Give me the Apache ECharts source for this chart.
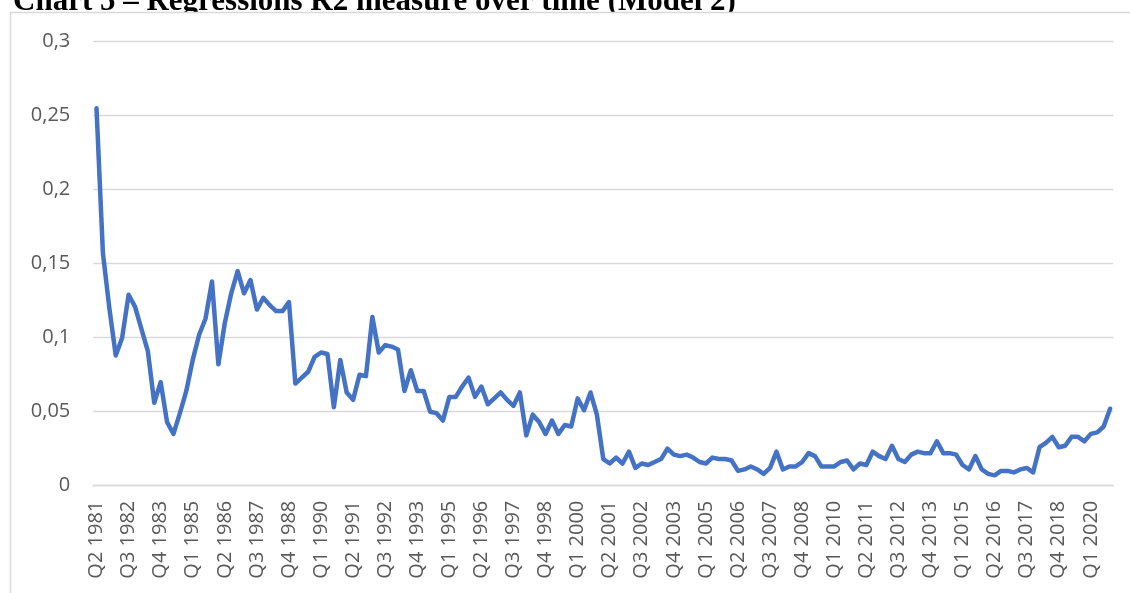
<!DOCTYPE html>
<html>
<head>
<meta charset="utf-8">
<script src="https://cdn.jsdelivr.net/npm/echarts@6/dist/echarts.min.js"></script>
<style>
  html, body { margin: 0; padding: 0; background: #fff; }
  #chart { width: 1130px; height: 593px; }
</style>
</head>
<body>
<div id="chart"></div>
<script>
const titleText = 'Chart 5 \u2013 Regressions R2 measure over time (Model 2)';

const categories = [
  'Q2 1981','Q3 1981','Q4 1981',
  'Q1 1982','Q2 1982','Q3 1982','Q4 1982',
  'Q1 1983','Q2 1983','Q3 1983','Q4 1983',
  'Q1 1984','Q2 1984','Q3 1984','Q4 1984',
  'Q1 1985','Q2 1985','Q3 1985','Q4 1985',
  'Q1 1986','Q2 1986','Q3 1986','Q4 1986',
  'Q1 1987','Q2 1987','Q3 1987','Q4 1987',
  'Q1 1988','Q2 1988','Q3 1988','Q4 1988',
  'Q1 1989','Q2 1989','Q3 1989','Q4 1989',
  'Q1 1990','Q2 1990','Q3 1990','Q4 1990',
  'Q1 1991','Q2 1991','Q3 1991','Q4 1991',
  'Q1 1992','Q2 1992','Q3 1992','Q4 1992',
  'Q1 1993','Q2 1993','Q3 1993','Q4 1993',
  'Q1 1994','Q2 1994','Q3 1994','Q4 1994',
  'Q1 1995','Q2 1995','Q3 1995','Q4 1995',
  'Q1 1996','Q2 1996','Q3 1996','Q4 1996',
  'Q1 1997','Q2 1997','Q3 1997','Q4 1997',
  'Q1 1998','Q2 1998','Q3 1998','Q4 1998',
  'Q1 1999','Q2 1999','Q3 1999','Q4 1999',
  'Q1 2000','Q2 2000','Q3 2000','Q4 2000',
  'Q1 2001','Q2 2001','Q3 2001','Q4 2001',
  'Q1 2002','Q2 2002','Q3 2002','Q4 2002',
  'Q1 2003','Q2 2003','Q3 2003','Q4 2003',
  'Q1 2004','Q2 2004','Q3 2004','Q4 2004',
  'Q1 2005','Q2 2005','Q3 2005','Q4 2005',
  'Q1 2006','Q2 2006','Q3 2006','Q4 2006',
  'Q1 2007','Q2 2007','Q3 2007','Q4 2007',
  'Q1 2008','Q2 2008','Q3 2008','Q4 2008',
  'Q1 2009','Q2 2009','Q3 2009','Q4 2009',
  'Q1 2010','Q2 2010','Q3 2010','Q4 2010',
  'Q1 2011','Q2 2011','Q3 2011','Q4 2011',
  'Q1 2012','Q2 2012','Q3 2012','Q4 2012',
  'Q1 2013','Q2 2013','Q3 2013','Q4 2013',
  'Q1 2014','Q2 2014','Q3 2014','Q4 2014',
  'Q1 2015','Q2 2015','Q3 2015','Q4 2015',
  'Q1 2016','Q2 2016','Q3 2016','Q4 2016',
  'Q1 2017','Q2 2017','Q3 2017','Q4 2017',
  'Q1 2018','Q2 2018','Q3 2018','Q4 2018',
  'Q1 2019','Q2 2019','Q3 2019','Q4 2019',
  'Q1 2020','Q2 2020','Q3 2020','Q4 2020'
];

const r2Values = [
  0.255, 0.157, 0.120, 0.088, 0.100, 0.129, 0.121, 0.106, 0.091, 0.056,
  0.070, 0.043, 0.035, 0.049, 0.064, 0.085, 0.102, 0.113, 0.138, 0.082,
  0.110, 0.130, 0.145, 0.130, 0.139, 0.119, 0.127, 0.122, 0.118, 0.118,
  0.124, 0.069, 0.073, 0.077, 0.087, 0.090, 0.089, 0.053, 0.085, 0.063,
  0.058, 0.075, 0.074, 0.114, 0.090, 0.095, 0.094, 0.092, 0.064, 0.078,
  0.064, 0.064, 0.050, 0.049, 0.044, 0.060, 0.060, 0.067, 0.073, 0.060,
  0.067, 0.055, 0.059, 0.063, 0.058, 0.054, 0.063, 0.034, 0.048, 0.043,
  0.035, 0.044, 0.035, 0.041, 0.040, 0.059, 0.051, 0.063, 0.048, 0.018,
  0.015, 0.019, 0.015, 0.023, 0.012, 0.015, 0.014, 0.016, 0.018, 0.025,
  0.021, 0.020, 0.021, 0.019, 0.016, 0.015, 0.019, 0.018, 0.018, 0.017,
  0.010, 0.011, 0.013, 0.011, 0.008, 0.012, 0.023, 0.011, 0.013, 0.013,
  0.016, 0.022, 0.020, 0.013, 0.013, 0.013, 0.016, 0.017, 0.011, 0.015,
  0.014, 0.023, 0.020, 0.018, 0.027, 0.018, 0.016, 0.021, 0.023, 0.022,
  0.022, 0.030, 0.022, 0.022, 0.021, 0.014, 0.011, 0.020, 0.011, 0.008,
  0.007, 0.010, 0.010, 0.009, 0.011, 0.012, 0.009, 0.026, 0.029, 0.033,
  0.026, 0.027, 0.033, 0.033, 0.030, 0.035, 0.036, 0.040, 0.052
];

const yTickValues = [0, 0.05, 0.1, 0.15, 0.2, 0.25, 0.3];
const yTickLabels = ['0', '0,05', '0,1', '0,15', '0,2', '0,25', '0,3'];

const chart = echarts.init(document.getElementById('chart'), null, { renderer: 'canvas' });

const option = {
  backgroundColor: '#ffffff',
  animation: false,
  title: {
    text: titleText,
    left: 13,
    top: -14,
    padding: 0,
    z: 1,
    textStyle: {
      fontFamily: '"Liberation Serif", "DejaVu Serif", serif',
      fontWeight: 'bold',
      fontSize: 31,
      lineHeight: 31,
      color: '#000000'
    }
  },
  graphic: [
    {
      type: 'rect',
      z: 100,
      silent: true,
      shape: { x: 11, y: 13, width: 1119, height: 20 },
      style: { fill: '#ffffff', stroke: null }
    },
    {
      type: 'rect',
      z: 101,
      silent: true,
      shape: { x: 10.5, y: 12.5, width: 1200, height: 700 },
      style: { fill: null, stroke: '#D9D9D9', lineWidth: 1.5 }
    }
  ],
  grid: {
    left: 93.3,
    right: 16.7,
    top: 41.7,
    bottom: 107.3,
    containLabel: false
  },
  xAxis: {
    type: 'category',
    data: categories,
    boundaryGap: true,
    axisLine: { show: true, lineStyle: { color: '#D9D9D9', width: 1.3 } },
    axisTick: { show: false },
    axisLabel: {
      interval: 4,
      rotate: 90,
      margin: 15,
      color: '#595959',
      fontFamily: '"Open Sans", sans-serif',
      fontSize: 20
    },
    splitLine: { show: false }
  },
  yAxis: {
    type: 'value',
    min: 0,
    max: 0.3,
    interval: 0.05,
    axisLine: { show: false },
    axisTick: { show: false },
    axisLabel: {
      margin: 23,
      color: '#595959',
      fontFamily: '"Open Sans", sans-serif',
      fontSize: 20,
      formatter: function (v) {
        for (let k = 0; k < yTickValues.length; k++) {
          if (Math.abs(yTickValues[k] - v) < 1e-9) return yTickLabels[k];
        }
        return '';
      }
    },
    splitLine: { show: true, lineStyle: { color: '#D9D9D9', width: 1.3 } }
  },
  series: [
    {
      type: 'line',
      data: r2Values,
      showSymbol: false,
      symbol: 'none',
      smooth: false,
      lineStyle: { color: '#4472C4', width: 4.5, join: 'round', cap: 'round' },
      z: 2
    }
  ]
};

chart.setOption(option);
</script>
</body>
</html>
